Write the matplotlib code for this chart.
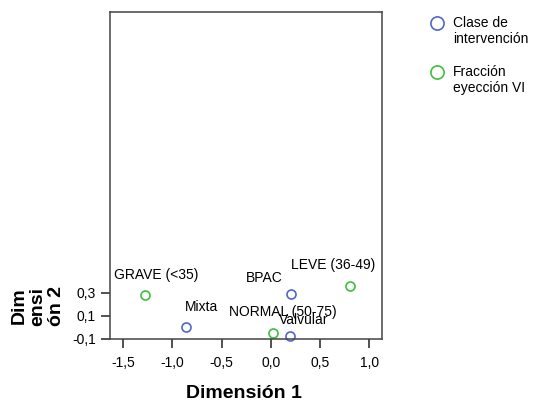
import matplotlib
matplotlib.use("Agg")
import matplotlib.pyplot as plt
from matplotlib.lines import Line2D

# Puntos de categoría (Dimensión 1, Dimensión 2)
intervencion_labels = ["BPAC", "Mixta", "Valvular"]
intervencion_x = [0.20, -0.86, 0.19]
intervencion_y = [0.29, 0.00, -0.08]

fraccion_labels = ["GRAVE (<35)", "LEVE (36-49)", "NORMAL (50-75)"]
fraccion_x = [-1.28, 0.80, 0.02]
fraccion_y = [0.28, 0.36, -0.05]

x_ticks = [-1.5, -1.0, -0.5, 0.0, 0.5, 1.0]
y_ticks = [-0.1, 0.1, 0.3]

legend_labels = ["Clase de\nintervención", "Fracción\neyección VI"]

# desplazamiento de cada etiqueta respecto a su punto, en píxeles
label_offsets = {
    "BPAC": (-45, 16),
    "Mixta": (-1, 20),
    "Valvular": (-11, 16),
    "GRAVE (<35)": (-31, 20),
    "LEVE (36-49)": (-59, 21),
    "NORMAL (50-75)": (-44, 21),
}

BLUE = "#4f67c8"
GREEN = "#3fbf3f"
FONT = "Liberation Sans"


def fmt(v):
    return f"{v:.1f}".replace(".", ",")


def main():
    plt.rcParams["font.family"] = [FONT, "DejaVu Sans"]
    fig = plt.figure(figsize=(5.37, 4.07), dpi=100)
    ax = fig.add_axes([0.2048, 0.1678, 0.5066, 0.8027])

    ax.plot(intervencion_x, intervencion_y, "o", ms=6.5, mfc="none",
            mec=BLUE, mew=1.2, clip_on=False)
    ax.plot(fraccion_x, fraccion_y, "o", ms=6.5, mfc="none",
            mec=GREEN, mew=1.2, clip_on=False)

    pts = list(zip(intervencion_labels, intervencion_x, intervencion_y))
    pts += list(zip(fraccion_labels, fraccion_x, fraccion_y))
    for name, x, y in pts:
        ax.annotate(name, (x, y), xytext=label_offsets[name],
                    textcoords="offset pixels", ha="left", va="center",
                    fontsize=10)

    ax.set_xlim(-1.635, 1.129)
    ax.set_ylim(-0.1, 2.74)
    ax.set_xticks(x_ticks)
    ax.set_xticklabels([fmt(v) for v in x_ticks])
    ax.set_yticks(y_ticks)
    ax.set_yticklabels([fmt(v) for v in y_ticks])
    ax.tick_params(length=6.5, width=1.1, labelsize=10, color="#222222")
    ax.tick_params(axis="x", pad=6)
    for s in ax.spines.values():
        s.set_linewidth(1.1)
        s.set_color("#444444")

    fig.text(0.455, 1 - 393 / 407, "Dimensión 1", ha="center", va="center",
             fontsize=14, fontweight="bold")
    fig.text(0.0708, 1 - 306 / 407, "Dim\nensi\nón 2", ha="center", va="center",
             rotation=90, fontsize=14, fontweight="bold",
             multialignment="center", linespacing=1.1)

    # leyenda: marcador alineado con la primera línea del texto
    for color, text, y_px in zip([BLUE, GREEN], legend_labels, [23, 72]):
        fig.add_artist(Line2D([437 / 537], [1 - y_px / 407],
                              transform=fig.transFigure, marker="o", ls="none",
                              ms=9.5, mfc="none", mec=color, mew=1.2))
        fig.text(453 / 537, 1 - (y_px - 7) / 407, text, ha="left", va="top",
                 fontsize=10, linespacing=1.2)

    fig.savefig("out.png", dpi=100)


if __name__ == "__main__":
    main()
